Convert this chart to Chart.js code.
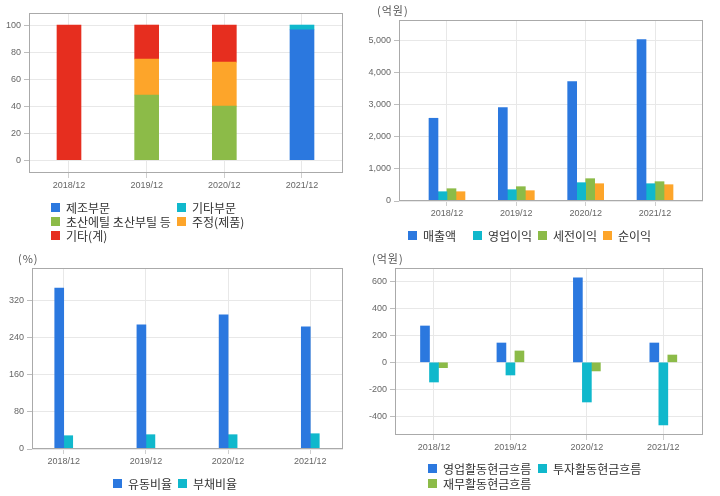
<!DOCTYPE html>
<html><head><meta charset="utf-8">
<script src="https://cdn.jsdelivr.net/npm/chart.js@4"></script>
<style>
body{margin:0;background:#fff;}
#wrap{position:relative;width:720px;height:496px;overflow:hidden;font-family:"Noto Sans CJK KR","Noto Sans",sans-serif;}
#wrap canvas{position:absolute;}
.lg{position:absolute;display:flex;align-items:center;height:14px;font-size:12px;color:#333;white-space:nowrap;}
.lg i{display:inline-block;width:9px;height:9px;margin-right:6px;}
.ttl{position:absolute;font-size:11px;color:#555;letter-spacing:1px;line-height:12px;}
</style></head>
<body>
<div id="wrap">
<canvas id="c1" width="360" height="248" style="left:0;top:0"></canvas>
<canvas id="c2" width="360" height="248" style="left:360px;top:0"></canvas>
<canvas id="c3" width="360" height="248" style="left:0;top:248px"></canvas>
<canvas id="c4" width="360" height="248" style="left:360px;top:248px"></canvas>
<div class="ttl" style="left:377px;top:4px">(억원)</div>
<div class="ttl" style="left:18px;top:252px">(%)</div>
<div class="ttl" style="left:372px;top:252px">(억원)</div>
</div>
<script>
// ---- data ----
const periods = ['2018/12','2019/12','2020/12','2021/12'];

// chart 1: sales composition (%)
const mixLabels = ['제조부문','기타부문','초산에틸 초산부틸 등','주정(제품)','기타(계)'];
const mixManufacturing = [0, 0, 0, 96.5];
const mixOtherDivision = [0, 0, 0, 3.5];
const mixAcetate       = [0, 48.3, 40.1, 0];
const mixSpirits       = [0, 26.6, 32.5, 0];
const mixOtherTotal    = [100, 25.1, 27.4, 0];
const mixTicks = [0, 20, 40, 60, 80, 100];

// chart 2: income (억원)
const incLabels = ['매출액','영업이익','세전이익','순이익'];
const sales     = [2583, 2917, 3729, 5042];
const opIncome  = [290, 353, 572, 540];
const preTax    = [384, 447, 697, 603];
const netIncome = [290, 322, 540, 509];
const incTicks = [0, 1000, 2000, 3000, 4000, 5000];

// chart 3: ratios (%)
const ratioLabels = ['유동비율','부채비율'];
const currentRatio = [346.5, 267, 288.5, 262.7];
const debtRatio    = [28.6, 30.8, 30.8, 32.9];
const ratioTicks = [0, 80, 160, 240, 320];

// chart 4: cash flow (억원)
const cfLabels = ['영업활동현금흐름','투자활동현금흐름','재무활동현금흐름'];
const opCF  = [269, 143, 625, 143];
const invCF = [-146, -94, -294, -464];
const finCF = [-40, 84, -64, 54];
const cfTicks = [-400, -200, 0, 200, 400, 600];

// ---- styles ----
const BLUE='#2b78df', TEAL='#10b8cc', GREEN='#8cbb48', ORANGE='#fda52a', RED='#e62e1f';
const TICK_FONT = {family:'"Liberation Sans", Arial, sans-serif', size:9};
const TICK_COLOR = '#666';
const GRID = '#e8e8e8';

const boxPlugin = {
  id:'box',
  afterDraw(chart){
    const a = chart.chartArea, ctx = chart.ctx;
    ctx.save();
    ctx.strokeStyle = '#aaaaaa';
    ctx.lineWidth = 1;
    ctx.strokeRect(Math.round(a.left)+0.5, Math.round(a.top)+0.5, Math.round(a.right-a.left)-1, Math.round(a.bottom-a.top)-1);
    ctx.restore();
  }
};

// zero-valued segments are not drawn
function pts(arr){ return arr.map((v,i)=>({x:i, y:(v===0 ? null : v)})); }

function makeChart(id, o){
  const W = 360, H = 248;
  return new Chart(document.getElementById(id), {
    type:'bar',
    data:{ datasets: o.datasets.map(d=>({
      label:d.label, data:pts(d.data), backgroundColor:d.color, borderWidth:0,
      barThickness:o.barW, stack: o.stacked ? 's' : undefined
    })) },
    plugins:[boxPlugin],
    options:{
      responsive:false, animation:false, devicePixelRatio:1,
      layout:{ padding:{ left:0, top:o.box.top, right:W-o.box.right, bottom:0 } },
      plugins:{ legend:{display:false}, tooltip:{enabled:false} },
      scales:{
        x:{
          type:'linear', min:o.xmin, max:o.xmax, stacked:!!o.stacked, offset:false,
          afterBuildTicks:s=>{ s.ticks = periods.map((p,i)=>({value:i})); },
          afterFit:s=>{ s.height = H - o.box.bottom; },
          ticks:{ autoSkip:false, maxRotation:0, font:TICK_FONT, color:TICK_COLOR, padding:2,
                  callback:v=>periods[v] },
          grid:{ offset:false, color:GRID, tickColor:'#cfcfcf', tickLength:5 },
          border:{ display:false }
        },
        y:{
          type:'linear', min:o.ymin, max:o.ymax, stacked:!!o.stacked,
          afterBuildTicks:s=>{ s.ticks = o.yticks.map(v=>({value:v})); },
          afterFit:s=>{ s.width = o.box.left; },
          ticks:{ font:TICK_FONT, color:TICK_COLOR, padding:3,
                  callback:v=>Number(v).toLocaleString('en-US') },
          grid:{ color:GRID, tickColor:'#bdbdbd', tickLength:5 },
          border:{ display:false }
        }
      }
    }
  });
}

// chart 1 stack order: bottom → top
makeChart('c1', {
  box:{left:29, right:343, top:13, bottom:173}, xmin:-0.515, xmax:3.528,
  ymin:-9.4, ymax:108.9, yticks:mixTicks, barW:24, stacked:true,
  datasets:[
    {label:mixLabels[0], data:mixManufacturing, color:BLUE},
    {label:mixLabels[2], data:mixAcetate, color:GREEN},
    {label:mixLabels[3], data:mixSpirits, color:ORANGE},
    {label:mixLabels[4], data:mixOtherTotal, color:RED},
    {label:mixLabels[1], data:mixOtherDivision, color:TEAL}
  ]
});

makeChart('c2', {
  box:{left:39, right:343, top:20, bottom:201}, xmin:-0.692, xmax:3.692,
  ymin:0, ymax:5650, yticks:incTicks, barW:9,
  datasets:[
    {label:incLabels[0], data:sales, color:BLUE},
    {label:incLabels[1], data:opIncome, color:TEAL},
    {label:incLabels[2], data:preTax, color:GREEN},
    {label:incLabels[3], data:netIncome, color:ORANGE}
  ]
});
makeChart('c3', {
  box:{left:32, right:343, top:20, bottom:201}, xmin:-0.386, xmax:3.398,
  ymin:0, ymax:389.5, yticks:ratioTicks, barW:9,
  datasets:[
    {label:ratioLabels[0], data:currentRatio, color:BLUE},
    {label:ratioLabels[1], data:debtRatio, color:TEAL}
  ]
});
makeChart('c4', {
  box:{left:35, right:343, top:20, bottom:187}, xmin:-0.510, xmax:3.519,
  ymin:-538.5, ymax:698.5, yticks:cfTicks, barW:9,
  datasets:[
    {label:cfLabels[0], data:opCF, color:BLUE},
    {label:cfLabels[1], data:invCF, color:TEAL},
    {label:cfLabels[2], data:finCF, color:GREEN}
  ]
});

// ---- HTML legends ----
const legendItems = [
  [mixLabels[0], BLUE, 51, 207], [mixLabels[1], TEAL, 177, 207],
  [mixLabels[2], GREEN, 51, 221], [mixLabels[3], ORANGE, 177, 221],
  [mixLabels[4], RED, 51, 235],
  [incLabels[0], BLUE, 408, 235], [incLabels[1], TEAL, 473, 235],
  [incLabels[2], GREEN, 538, 235], [incLabels[3], ORANGE, 603, 235],
  [ratioLabels[0], BLUE, 113, 483], [ratioLabels[1], TEAL, 178, 483],
  [cfLabels[0], BLUE, 428, 468], [cfLabels[1], TEAL, 538, 468],
  [cfLabels[2], GREEN, 428, 483]
];
const wrap = document.getElementById('wrap');
legendItems.forEach(([t,c,x,y])=>{
  const d = document.createElement('div');
  d.className = 'lg';
  d.style.left = x+'px'; d.style.top = (y-7)+'px';
  d.innerHTML = '<i style="background:'+c+'"></i><span>'+t+'</span>';
  wrap.appendChild(d);
});
</script>
</body></html>
